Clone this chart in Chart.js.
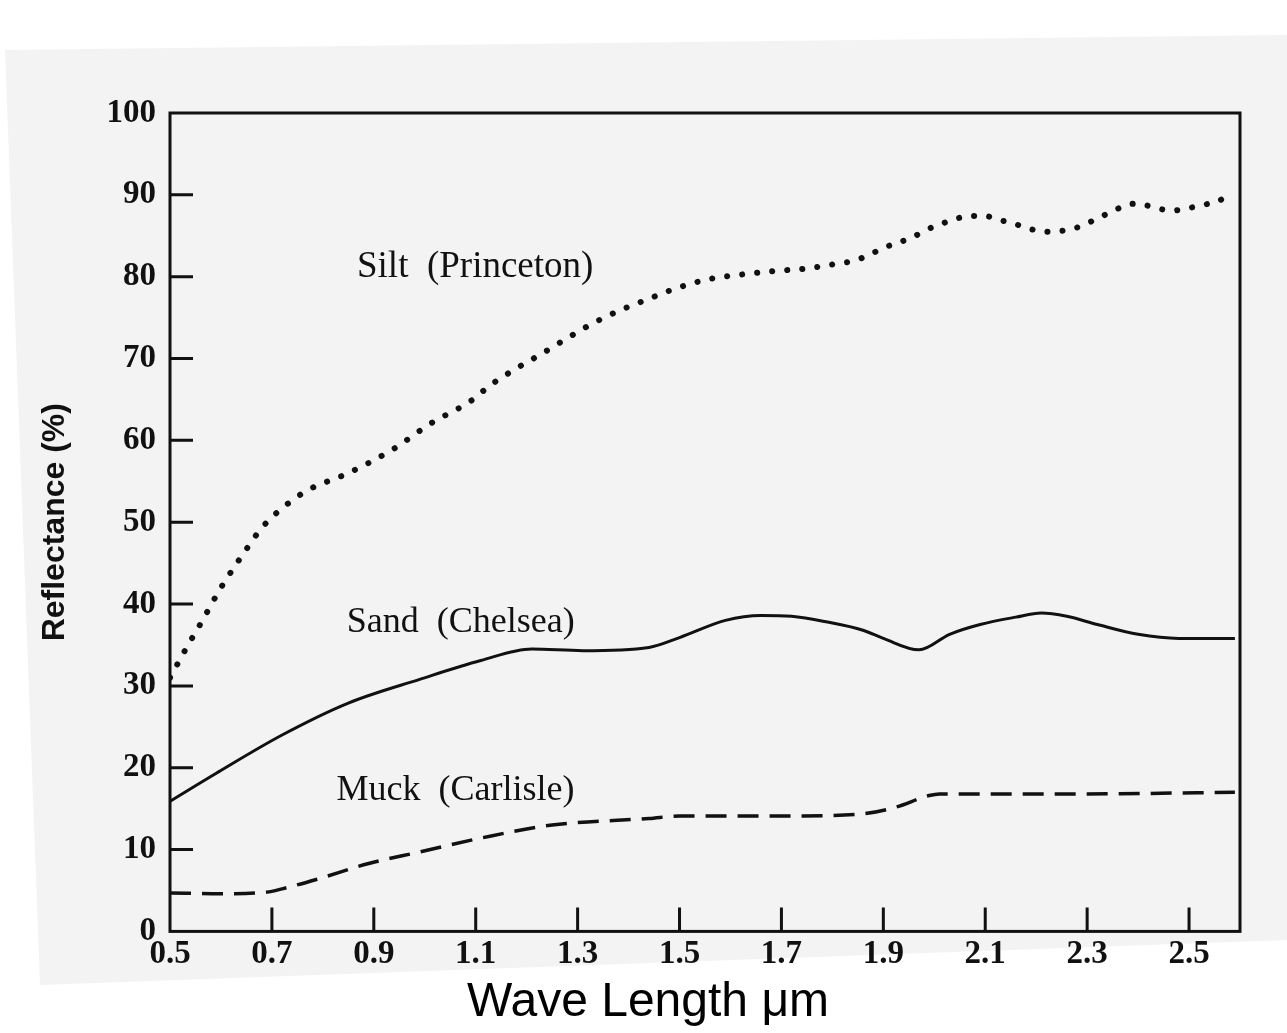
<!DOCTYPE html>
<html>
<head>
<meta charset="utf-8">
<script src="https://cdn.jsdelivr.net/npm/chart.js@4.4.1/dist/chart.umd.min.js"></script>
<style>
  html, body { margin: 0; padding: 0; background: #fff; }
  #wrap { width: 1287px; height: 1033px; }
</style>
</head>
<body>
<div id="wrap"><canvas id="myChart" width="1287" height="1033"></canvas></div>
<script>
// wavelength (um) / reflectance (%)
const siltX = [0.5, 0.53, 0.56, 0.6, 0.65, 0.68, 0.72, 0.77, 0.85, 0.94, 1.01, 1.09, 1.13, 1.18, 1.23, 1.28, 1.33, 1.38, 1.44, 1.49, 1.55, 1.6, 1.69, 1.75, 1.81, 1.84, 1.87, 1.9, 1.96, 1.98, 2.02, 2.05, 2.07, 2.1, 2.13, 2.16, 2.19, 2.22, 2.25, 2.28, 2.31, 2.33, 2.36, 2.39, 2.41, 2.44, 2.47, 2.5, 2.53, 2.56, 2.58];
const siltY = [31.0, 34.4, 37.6, 42.0, 46.7, 49.3, 51.7, 53.9, 56.0, 59.0, 62.0, 64.8, 66.8, 68.8, 70.6, 72.5, 74.3, 75.8, 77.3, 78.5, 79.6, 80.1, 80.7, 81.0, 81.6, 81.9, 82.6, 83.5, 84.9, 85.6, 86.6, 87.2, 87.4, 87.4, 86.9, 86.4, 85.8, 85.5, 85.6, 86.0, 86.8, 87.4, 88.3, 88.9, 88.8, 88.3, 88.1, 88.4, 88.8, 89.3, 90.3];

const sandX = [0.5, 0.59, 0.72, 0.85, 0.99, 1.11, 1.21, 1.31, 1.44, 1.5, 1.59, 1.66, 1.72, 1.79, 1.86, 1.9, 1.97, 2.03, 2.09, 2.16, 2.21, 2.26, 2.32, 2.4, 2.48, 2.59];
const sandY = [15.9, 19.3, 24.0, 27.9, 30.8, 33.1, 34.5, 34.3, 34.7, 35.9, 38.0, 38.6, 38.5, 37.8, 36.8, 35.8, 34.4, 36.3, 37.5, 38.4, 38.9, 38.5, 37.5, 36.3, 35.8, 35.8];

const muckX = [0.5, 0.6, 0.69, 0.72, 0.79, 0.89, 0.99, 1.11, 1.25, 1.44, 1.5, 1.72, 1.85, 1.92, 1.99, 2.01, 2.29, 2.59];
const muckY = [4.7, 4.6, 4.8, 5.2, 6.4, 8.3, 9.7, 11.4, 13.0, 13.8, 14.1, 14.1, 14.3, 15.1, 16.6, 16.8, 16.8, 17.0];

const xTicks = [0.5, 0.7, 0.9, 1.1, 1.3, 1.5, 1.7, 1.9, 2.1, 2.3, 2.5];
const yTicks = [0, 10, 20, 30, 40, 50, 60, 70, 80, 90, 100];

const seriesNames = ['Silt  (Princeton)', 'Sand  (Chelsea)', 'Muck  (Carlisle)'];
// where each curve name sits, in data units (left x, baseline y)
const nameX = [0.867, 0.847, 0.827];
const nameY = [80.0, 36.6, 16.1];

const pts = (xs, ys) => xs.map((x, i) => ({ x: x, y: ys[i] }));

const serif = '"Liberation Serif", "Times New Roman", serif';
const sans = '"Liberation Sans", Arial, sans-serif';

const paperPlugin = {
  id: 'paper',
  beforeDraw(chart) {
    const c = chart.ctx;
    c.save();
    c.fillStyle = '#ffffff';
    c.fillRect(0, 0, chart.width, chart.height);
    c.fillStyle = '#f3f3f3';
    c.beginPath();
    c.moveTo(5, 50);
    c.lineTo(1287, 35);
    c.lineTo(1287, 940);
    c.lineTo(40, 985);
    c.closePath();
    c.fill();
    c.restore();
  }
};

const framePlugin = {
  id: 'frame',
  afterDatasetsDraw(chart) {
    const c = chart.ctx;
    const a = chart.chartArea;
    const xs = chart.scales.x;
    const ys = chart.scales.y;
    c.save();
    c.strokeStyle = '#111';
    c.lineWidth = 3;
    c.strokeRect(a.left, a.top, a.right - a.left, a.bottom - a.top);

    // inward tick marks
    c.beginPath();
    yTicks.slice(1, -1).forEach(v => {
      const py = ys.getPixelForValue(v);
      c.moveTo(a.left, py);
      c.lineTo(a.left + 23, py);
    });
    xTicks.slice(1).forEach(v => {
      const px = xs.getPixelForValue(v);
      c.moveTo(px, a.bottom);
      c.lineTo(px, a.bottom - 24);
    });
    c.stroke();

    // curve names
    c.fillStyle = '#111';
    c.textBaseline = 'alphabetic';
    c.textAlign = 'left';
    seriesNames.forEach((name, i) => {
      c.font = (i === 0 ? '37px ' : '36px ') + serif;
      c.fillText(name, xs.getPixelForValue(nameX[i]), ys.getPixelForValue(nameY[i]));
    });
    c.restore();
  }
};

let ctx = document.querySelector('#myChart');

let grafico = new Chart(ctx, {
  type: 'line',
  data: {
    datasets: [
      {
        label: seriesNames[0],
        data: pts(siltX, siltY),
        borderColor: '#111',
        borderWidth: 6,
        borderDash: [0.1, 15],
        borderCapStyle: 'round',
        pointRadius: 0,
        cubicInterpolationMode: 'monotone',
      },
      {
        label: seriesNames[1],
        data: pts(sandX, sandY),
        borderColor: '#111',
        borderWidth: 3,
        pointRadius: 0,
        cubicInterpolationMode: 'monotone',
      },
      {
        label: seriesNames[2],
        data: pts(muckX, muckY),
        borderColor: '#111',
        borderWidth: 3.5,
        borderDash: [21, 11],
        pointRadius: 0,
        cubicInterpolationMode: 'monotone',
      },
    ],
  },
  options: {
    responsive: false,
    animation: false,
    events: [],
    layout: { padding: { top: 113, right: 47, left: 56, bottom: 0 } },
    plugins: {
      legend: { display: false },
      tooltip: { enabled: false },
      title: {
        display: true,
        position: 'bottom',
        text: 'Wave Length \u03bcm',
        color: '#000',
        font: { family: sans, size: 48, weight: 'normal', lineHeight: 1.2 },
        padding: { top: 0, bottom: 1 },
      },
    },
    scales: {
      x: {
        type: 'linear',
        min: 0.5,
        max: 2.6,
        afterBuildTicks: s => { s.ticks = xTicks.map(v => ({ value: v })); },
        afterFit: s => { s.height = 43; },
        grid: { display: false, drawTicks: false },
        border: { display: false },
        ticks: {
          autoSkip: false,
          maxRotation: 0,
          padding: 3,
          color: '#111',
          font: { family: serif, size: 33, weight: 'bold' },
          callback: v => v.toFixed(1),
        },
      },
      y: {
        min: 0,
        max: 100,
        afterBuildTicks: s => { s.ticks = yTicks.map(v => ({ value: v })); },
        afterFit: s => { s.width = 114; },
        grid: { display: false, drawTicks: false },
        border: { display: false },
        ticks: {
          padding: 14,
          color: '#111',
          font: { family: serif, size: 33, weight: 'bold' },
        },
        title: {
          display: true,
          text: 'Reflectance (%)',
          color: '#111',
          font: { family: sans, size: 32, weight: 'bold' },
          padding: { top: -20, bottom: 0 },
        },
      },
    },
  },
  plugins: [paperPlugin, framePlugin],
});
</script>
</body>
</html>
